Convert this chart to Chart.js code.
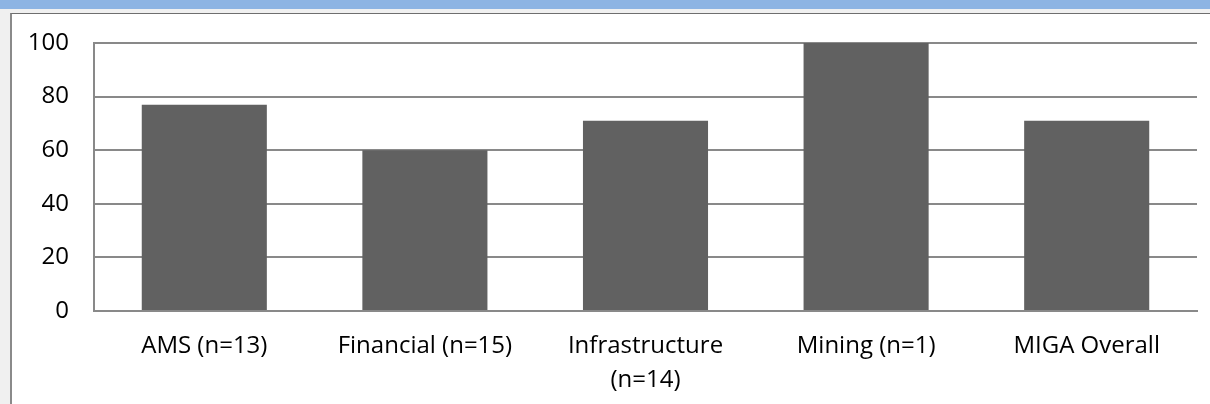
<!DOCTYPE html>
<html>
<head>
<meta charset="utf-8">
<script src="https://cdn.jsdelivr.net/npm/chart.js@4/dist/chart.umd.min.js"></script>
<style>
    html, body { margin: 0; padding: 0; }
    body { width: 1210px; height: 404px; background: #f0f0f0; position: relative; overflow: hidden; }
    #topBand { position: absolute; left: 0; top: 0; width: 1210px; height: 9px; background: #8db4e3; }
    #frame { position: absolute; left: 10px; top: 13px; width: 1200px; height: 391px; background: #fff;
             border-top: 1px solid #6e6e6e; border-left: 2px solid #8a8a8a; box-sizing: border-box; }
    #chartBox { position: absolute; left: 12px; top: 14px; width: 1198px; height: 390px; }
</style>
</head>
<body>
<div id="topBand"></div>
<div id="frame"></div>
<div id="chartBox"><canvas id="ratingChart"></canvas></div>
<script>
var categories = ["AMS (n=13)", "Financial (n=15)", ["Infrastructure", "(n=14)"], "Mining (n=1)", "MIGA Overall"];
var ratingValues = [77, 60, 71, 100, 71];
var yMin = 0;
var yMax = 100;
var yStep = 20;

var axisColor = "#898989";
var labelFont = { family: "'Open Sans'", size: 24, lineHeight: 1.38 };

var chartElement = document.getElementById("ratingChart").getContext('2d');
var chartObject = new Chart(chartElement, {
    type: 'bar',
    data: {
        labels: categories,
        datasets: [{
            data: ratingValues,
            backgroundColor: "#616161",
            borderWidth: 0,
            barPercentage: 0.567,
            categoryPercentage: 1
        }]
    },
    options: {
        responsive: true,
        maintainAspectRatio: false,
        animation: false,
        layout: {
            padding: { top: 29, right: 13, left: 0, bottom: 0 }
        },
        plugins: {
            legend: { display: false },
            tooltip: { enabled: false }
        },
        scales: {
            x: {
                grid: { display: false, drawTicks: false },
                border: { display: true, color: axisColor, width: 2 },
                ticks: {
                    color: "#000",
                    font: labelFont,
                    padding: 19,
                    maxRotation: 0,
                    autoSkip: false
                },
                afterFit: function (scale) { scale.height = 93; }
            },
            y: {
                min: yMin,
                max: yMax,
                // invisible tick marks keep the labels clear of the axis line
                grid: { color: axisColor, lineWidth: 2, drawTicks: true, tickLength: 22, tickColor: "rgba(0,0,0,0)" },
                border: { display: true, color: axisColor, width: 2 },
                ticks: {
                    stepSize: yStep,
                    color: "#000",
                    font: labelFont,
                    padding: 3
                },
                afterFit: function (scale) { scale.width = 82; }
            }
        }
    }
});
</script>
</body>
</html>
